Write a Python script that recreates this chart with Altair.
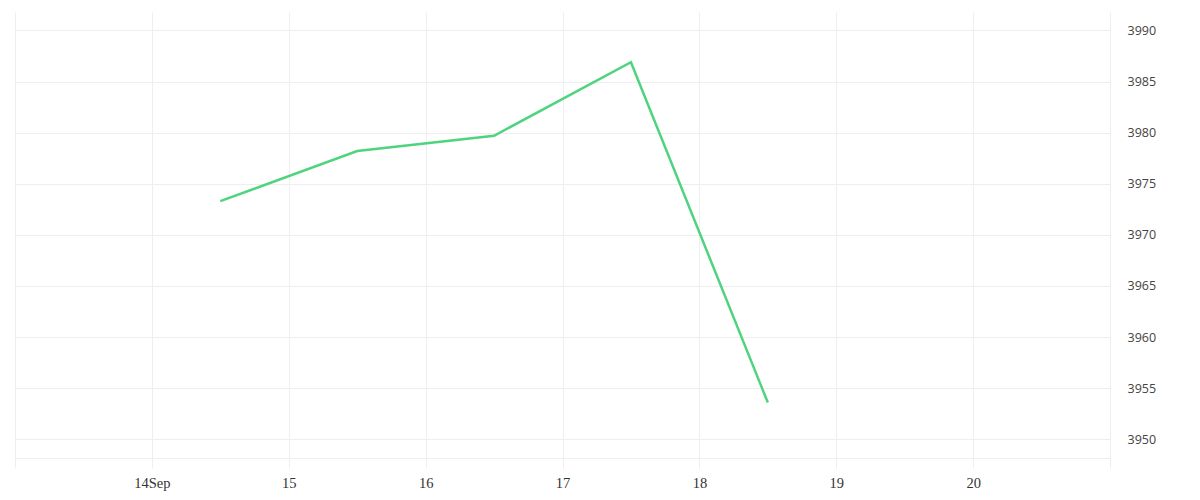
import altair as alt
import pandas as pd

# Data (daily readings at midday)
dates = ["2022-09-14T12:00:00Z", "2022-09-15T12:00:00Z", "2022-09-16T12:00:00Z",
         "2022-09-17T12:00:00Z", "2022-09-18T12:00:00Z"]
values = [3973.3, 3978.2, 3979.7, 3986.9, 3953.6]

tick_days = [14, 15, 16, 17, 18, 19, 20]
tick_labels = ["14Sep", "15", "16", "17", "18", "19", "20"]
y_ticks = [3950, 3955, 3960, 3965, 3970, 3975, 3980, 3985, 3990]

df = pd.DataFrame({"date": dates, "value": values})

label_expr = " : ".join(
    f"utcdate(datum.value) == {d} ? '{l}'" for d, l in zip(tick_days, tick_labels)
) + " : ''"

x_enc = alt.X(
    "date:T",
    scale=alt.Scale(
        type="utc",
        domain=[alt.DateTime(year=2022, month=9, date=13, utc=True),
                alt.DateTime(year=2022, month=9, date=21, utc=True)],
        nice=False,
    ),
    axis=alt.Axis(
        title=None,
        values=[alt.DateTime(year=2022, month=9, date=d, utc=True) for d in tick_days],
        labelExpr=label_expr,
        offset=-10,
        domainColor="#eeeeee",
        tickColor="#eeeeee",
        tickSize=10,
        grid=True,
        gridColor="#eeeeee",
        labelFont="Liberation Serif",
        labelFontSize=14.5,
        labelColor="#333333",
        labelPadding=8,
    ),
)

yscale = alt.Scale(domain=[3947.19, 3991.81], nice=False, zero=False)

line = alt.Chart(df).mark_line(color="#4ed47e", strokeWidth=2.5).encode(
    x=x_enc,
    y=alt.Y(
        "value:Q",
        scale=yscale,
        axis=alt.Axis(
            orient="right",
            title=None,
            values=y_ticks,
            format="d",
            ticks=False,
            domainColor="#eeeeee",
            grid=True,
            gridColor="#eeeeee",
            labelFont="Open Sans",
            labelFontSize=12.5,
            labelColor="#444444",
            labelPadding=17,
        ),
    ),
)

left_edge = alt.Chart(df).mark_line(opacity=0).encode(
    x=x_enc,
    y=alt.Y(
        "value:Q",
        scale=yscale,
        axis=alt.Axis(
            orient="left",
            title=None,
            labels=False,
            ticks=False,
            grid=False,
            domainColor="#eeeeee",
        ),
    ),
)

chart = (
    alt.layer(line, left_edge)
    .resolve_axis(y="independent")
    .properties(
        width=1095,
        height=456,
        padding={"left": 7, "top": 4, "right": 10, "bottom": 10},
        view=alt.ViewBackground(strokeOpacity=0, strokeWidth=0),
    )
    .configure_view(strokeOpacity=0, strokeWidth=0)
    .configure(background="white")
)

chart.save("out.html", embed_options={"renderer": "svg", "actions": False})
